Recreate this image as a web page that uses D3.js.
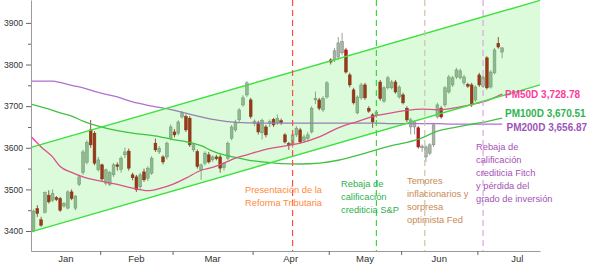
<!DOCTYPE html>
<html>
<head>
<meta charset="utf-8">
<script src="https://cdn.jsdelivr.net/npm/d3@7"></script>
<style>
  body { margin: 0; background: #fff; }
  svg { display: block; }
  text { font-family: "Liberation Sans", Arial, sans-serif; }
</style>
</head>
<body>
<div id="root"></div>
<script>

// ---- data ----
var months = ["Jan", "Feb", "Mar", "Apr", "May", "Jun", "Jul"];
// first trading-day index of each month (Jul assumed 21 sessions for label centering)
var monthStart = [0, 18, 37, 58, 78, 97, 117, 138];

var yTicks = [3400, 3500, 3600, 3700, 3800, 3900];
var yMinor = [3450, 3550, 3650, 3750, 3850];

// daily OHLC, one entry per trading session
var open  = [3400,3454,3427,3445,3486,3474,3480,3478,3460,3455,3494,3455,3512,3540,3565,3643,3635,3547,3559,3515,
             3512,3535,3559,3548,3583,3592,3535,3530,3506,3542,3527,3539,3611,3590,3578,3578,3623,3638,3635,3674,
             3675,3671,3595,3591,3547,3563,3583,3571,3578,3578,3552,3575,3623,3643,3667,3703,3727,3715,3658,3660,
             3636,3650,3658,3668,3660,3665,3631,3610,3607,3631,3643,3618,3622,3638,3715,3715,3691,3722,3811,3811,
             3818,3828,3835,3775,3739,3684,3720,3751,3695,3679,3677,3758,3712,3744,3744,3758,3722,3727,3695,3650,
             3650,3648,3600,3578,3587,3607,3674,3695,3703,3734,3751,3770,3768,3756,3752,3751,3715,3775,3748,3816,
             3746,3780,3851,3830];
var high  = [3452,3462,3434,3495,3498,3500,3484,3482,3470,3498,3500,3486,3535,3595,3618,3667,3640,3578,3562,3550,
             3545,3563,3565,3580,3600,3598,3540,3535,3540,3550,3556,3580,3622,3604,3582,3615,3656,3645,3666,3688,
             3680,3676,3612,3596,3562,3592,3590,3582,3583,3584,3566,3615,3655,3667,3695,3726,3760,3720,3668,3665,
             3670,3655,3668,3672,3680,3670,3635,3614,3636,3652,3648,3632,3638,3700,3735,3720,3724,3760,3815,3840,
             3866,3876,3840,3780,3744,3726,3756,3756,3700,3683,3690,3763,3748,3773,3763,3763,3750,3732,3700,3672,
             3666,3652,3608,3606,3611,3660,3708,3700,3748,3775,3773,3792,3790,3775,3756,3756,3750,3780,3774,3820,
             3786,3840,3866,3842];
var low   = [3397,3434,3410,3442,3466,3470,3472,3446,3456,3452,3474,3450,3508,3535,3560,3600,3558,3543,3520,3510,
             3508,3530,3545,3540,3575,3545,3522,3494,3500,3518,3520,3535,3590,3585,3560,3572,3618,3625,3630,3670,
             3638,3602,3590,3550,3523,3558,3562,3566,3570,3540,3545,3570,3618,3638,3660,3698,3722,3670,3652,3632,
             3620,3625,3650,3650,3655,3655,3610,3595,3600,3626,3610,3612,3615,3634,3705,3690,3686,3718,3800,3806,
             3812,3822,3778,3745,3704,3680,3715,3715,3684,3648,3672,3713,3708,3740,3740,3730,3718,3704,3662,3632,
             3632,3598,3590,3566,3582,3602,3670,3670,3698,3730,3746,3765,3764,3750,3744,3698,3710,3746,3744,3740,
             3742,3776,3838,3815];
var close = [3448,3442,3414,3492,3470,3490,3476,3450,3466,3494,3478,3484,3530,3590,3613,3607,3563,3571,3525,3547,
             3540,3559,3555,3575,3590,3551,3528,3499,3535,3523,3551,3575,3595,3599,3566,3611,3650,3631,3662,3684,
             3643,3607,3607,3555,3559,3587,3566,3578,3574,3551,3562,3611,3650,3662,3691,3720,3756,3675,3664,3638,
             3666,3631,3663,3655,3671,3660,3614,3605,3631,3647,3614,3626,3631,3695,3719,3695,3719,3756,3806,3833,
             3852,3855,3782,3751,3708,3722,3751,3720,3688,3662,3686,3718,3744,3768,3758,3734,3746,3708,3667,3667,
             3662,3602,3604,3602,3607,3655,3703,3674,3744,3770,3768,3787,3785,3770,3748,3703,3746,3751,3770,3744,
             3782,3835,3842,3840];

// moving averages read at these session indices
var maIdx  = [-0.66, 2, 5, 7, 10, 13, 17, 22, 26, 30, 33, 37, 40, 44, 47, 50, 53, 56, 60, 65,
              70, 75, 80, 85, 90, 94, 98, 102, 106, 110, 114, 118, 123];
var pm50   = [3627, 3602, 3578, 3555, 3541, 3530, 3521, 3512, 3503, 3497, 3502, 3514, 3527, 3546, 3553, 3563, 3575, 3583, 3594, 3603,
              3611, 3626, 3648, 3663, 3677, 3684, 3690, 3693, 3691, 3695, 3702, 3710, 3729];
var pm100  = [3705, 3698, 3690, 3684, 3676, 3664, 3652, 3641, 3635, 3631, 3627, 3619, 3615, 3605, 3592, 3583, 3577, 3571, 3566, 3562,
              3561, 3563, 3570, 3582, 3595, 3605, 3613, 3624, 3640, 3648, 3655, 3661, 3671];
var pm200  = [3760, 3760, 3760, 3757, 3750, 3744, 3733, 3722, 3710, 3702, 3697, 3690, 3683, 3674, 3668, 3664, 3661, 3660, 3659, 3659,
              3659, 3659, 3659, 3659, 3659, 3658, 3658, 3658, 3658, 3657, 3657, 3657, 3657];

// trend channel, value at the two ends of the chart
var channelIdx  = [-0.66, 132.94];
var channelLow  = [3398, 3751];
var channelHigh = [3601, 3954];

// events (session index) and their notes
var eventIdx = [68, 90, 102.7, 118];
var eventNotes = [
  ["Presentación de la", "Reforma Tributaria"],
  ["Rebaja de", "calificación", "crediticia S&P"],
  ["Temores", "inflacionarios y", "sorpresa", "optimista Fed"],
  ["Rebaja de", "calificación", "crediticia Fitch", "y pérdida del", "grado de inversión"]
];
var maLabels = ["PM50D 3,728.78", "PM100D 3,670.51", "PM200D 3,656.87"];


function drawChart() {

  var width = 589, height = 265;
  var plot = {left: 31, right: 540, top: 0, bottom: 251};

  var x = d3.scaleLinear().domain([channelIdx[0], channelIdx[1]]).range([plot.left, plot.right]);
  var y = d3.scaleLinear().domain([3352, 3955]).range([plot.bottom, plot.top]);

  var svg = d3.select("#root").append("svg")
      .attr("width", width)
      .attr("height", height);

  var candles = d3.range(open.length).map(function(i) {
    return {i: i, o: open[i], h: high[i], l: low[i], c: close[i]};
  });

  // candles
  var g = svg.append("g");
  g.selectAll(".wick").data(candles).enter().append("line")
      .attr("x1", function(d) { return x(d.i); })
      .attr("x2", function(d) { return x(d.i); })
      .attr("y1", function(d) { return y(d.h); })
      .attr("y2", function(d) { return y(d.l); })
      .attr("stroke", function(d) { return d.c >= d.o ? "#7f8a7f" : "#8a1a1a"; })
      .attr("stroke-width", 0.8);

  g.selectAll(".body").data(candles).enter().append("rect")
      .attr("x", function(d) { return x(d.i) - 1.4; })
      .attr("width", 2.8)
      .attr("y", function(d) { return y(Math.max(d.o, d.c)); })
      .attr("height", function(d) { return Math.max(1, Math.abs(y(d.o) - y(d.c))); })
      .attr("fill", function(d) { return d.c >= d.o ? "#a9b3a8" : "#b51c1c"; })
      .attr("stroke", function(d) { return d.c >= d.o ? "#7f8a7f" : "#8a1a1a"; })
      .attr("stroke-width", 0.5);

  // moving averages
  var line = d3.line()
      .x(function(d) { return x(d[0]); })
      .y(function(d) { return y(d[1]); })
      .curve(d3.curveMonotoneX);

  [[pm200, "#b070d0"], [pm100, "#44c044"], [pm50, "#ff3aa0"]].forEach(function(s) {
    svg.append("path")
        .datum(maIdx.map(function(k, j) { return [k, s[0][j]]; }))
        .attr("d", line)
        .attr("fill", "none")
        .attr("stroke", s[1])
        .attr("stroke-width", 1.3);
  });

  // channel fill on top (tints what lies inside)
  var area = d3.area()
      .x(function(d) { return x(d[0]); })
      .y0(function(d) { return y(d[1]); })
      .y1(function(d) { return y(d[2]); });
  var chan = channelIdx.map(function(k, j) { return [k, channelLow[j], channelHigh[j]]; });

  svg.append("path")
      .datum(chan)
      .attr("d", area)
      .attr("fill", "#00e600")
      .attr("fill-opacity", 0.14);

  [channelLow, channelHigh].forEach(function(v) {
    svg.append("path")
        .datum(channelIdx.map(function(k, j) { return [k, v[j]]; }))
        .attr("d", d3.line().x(function(d) { return x(d[0]); }).y(function(d) { return y(d[1]); }))
        .attr("stroke", "#3fe03f")
        .attr("stroke-width", 1.4);
  });

  // event lines
  var eventColors = ["#ff4a4a", "#3ad83a", "#cfc3a5", "#dca6e2"];
  var noteColors  = ["#ff8a3a", "#2fb04e", "#c98a55", "#a552b5"];
  var noteX    = [245, 341, 407, 476];
  var noteY    = [193.3, 186.7, 184.3, 150];
  var noteStep = [12.3, 13, 12.8, 12.9];

  eventIdx.forEach(function(k, j) {
    svg.append("line")
        .attr("x1", x(k)).attr("x2", x(k))
        .attr("y1", plot.top).attr("y2", plot.bottom)
        .attr("stroke", eventColors[j])
        .attr("stroke-width", 1.2)
        .attr("stroke-dasharray", "6,4");

    svg.append("g").selectAll("text").data(eventNotes[j]).enter().append("text")
        .attr("x", noteX[j])
        .attr("y", function(d, n) { return noteY[j] + n * noteStep[j]; })
        .attr("fill", noteColors[j])
        .attr("font-size", "9.3px")
        .text(function(d) { return d; });
  });

  // moving-average labels
  var labelColors = ["#ff3a9c", "#2fb54f", "#9b55b8"];
  var labelX = [505, 505, 506.5];
  var labelY = [98.3, 117.3, 131];
  maLabels.forEach(function(t, j) {
    svg.append("text")
        .attr("x", labelX[j]).attr("y", labelY[j])
        .attr("fill", labelColors[j])
        .attr("font-size", "10px")
        .attr("font-weight", "bold")
        .text(t);
  });

  // y axis
  var yAxis = svg.append("g")
      .attr("transform", "translate(" + plot.left + ",0)")
      .call(d3.axisLeft(y).tickValues(yTicks).tickSize(5).tickSizeOuter(0).tickPadding(3)
            .tickFormat(d3.format("d")));
  svg.append("g")
      .attr("transform", "translate(" + plot.left + ",0)")
      .call(d3.axisLeft(y).tickValues(yMinor).tickSize(3).tickSizeOuter(0).tickFormat(""))
      .select(".domain").remove();

  // x axis, ticks on month boundaries
  var bounds = monthStart.slice(1, 7).map(function(k) { return k - 0.5; });
  var xAxis = svg.append("g")
      .attr("transform", "translate(0," + plot.bottom + ")")
      .call(d3.axisBottom(x).tickValues(bounds).tickSize(4).tickSizeOuter(0).tickFormat(""));

  svg.append("g").selectAll("text").data(months).enter().append("text")
      .attr("x", function(d, j) { return x((monthStart[j] + monthStart[j + 1] - 1) / 2); })
      .attr("y", 262)
      .attr("text-anchor", "middle")
      .attr("font-size", "9.5px")
      .attr("fill", "#333")
      .text(function(d) { return d; });

  svg.selectAll(".domain").attr("stroke", "#9a9a9a");
  svg.selectAll(".tick line").attr("stroke", "#666");
  yAxis.selectAll("text").attr("font-size", "8.6px").attr("fill", "#333")
      .attr("font-family", "'Liberation Sans', Arial, sans-serif");
}

drawChart();

</script>
</body>
</html>
